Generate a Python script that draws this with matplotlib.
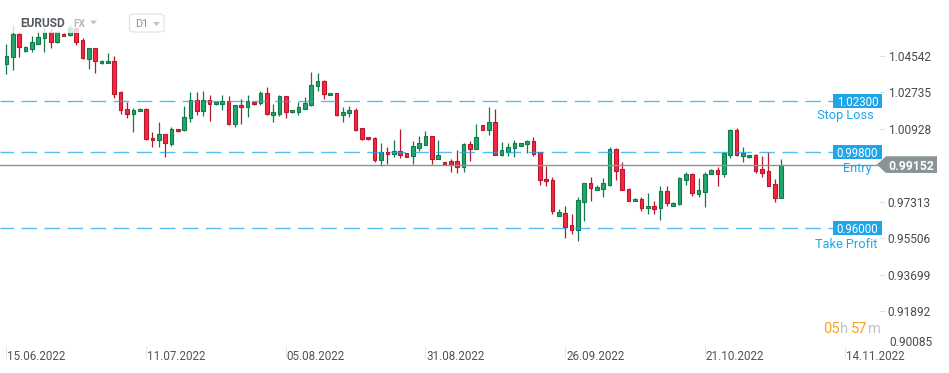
import numpy as np
import matplotlib
matplotlib.use("Agg")
import matplotlib.pyplot as plt
import matplotlib.transforms as mtransforms
from matplotlib.patches import Rectangle, Polygon, FancyBboxPatch

plt.rcParams['font.family'] = ['Roboto', 'DejaVu Sans']
plt.rcParams['lines.scale_dashes'] = False

# EURUSD D1 candles (one per trading day, Sunday sessions included)
opens = [1.04146, 1.04477, 1.05615, 1.04789, 1.04888, 1.05135, 1.05403, 1.05729, 1.05234, 1.05630,
         1.05551, 1.05897, 1.05318, 1.04393, 1.04908, 1.04165, 1.04165, 1.04279, 1.02745, 1.01889,
         1.01641, 1.01790, 1.01904, 1.00454, 1.00355, 1.00651, 1.00157, 1.00899, 1.00849, 1.01443,
         1.02349, 1.01819, 1.02349, 1.02136, 1.02136, 1.02300, 1.01176, 1.02102, 1.01988, 1.02235,
         1.02176, 1.02681, 1.01621, 1.01671, 1.02532, 1.01740, 1.01770, 1.01918, 1.02116, 1.03027,
         1.03289, 1.02582, 1.02681, 1.01621, 1.01690, 1.01839, 1.00948, 1.00503, 1.00454, 0.99394,
         0.99761, 0.99691, 0.99825, 0.99711, 0.99563, 0.99988, 1.00137, 1.00553, 0.99444, 0.99266,
         0.99330, 0.99330, 0.99048, 1.00171, 0.99939, 1.01097, 1.00879, 1.01260, 0.99642, 0.99790,
         0.99958, 1.00087, 1.00157, 1.00320, 0.99761, 0.98440, 0.98390, 0.96623, 0.96742, 0.96163,
         0.95930, 0.97316, 0.98227, 0.97910, 0.97959, 0.98142, 0.99924, 0.98934, 0.97945, 0.97336,
         0.97450, 0.96990, 0.97103, 0.97019, 0.97846, 0.97118, 0.97187, 0.98390, 0.98687, 0.97712,
         0.97811, 0.98702, 0.98885, 0.98702, 0.99642, 1.00849, 0.99592, 0.99513, 0.99612, 0.98919,
         0.98835, 0.98177, 0.97514]
highs = [1.05120, 1.06061, 1.05665, 1.05022, 1.05516, 1.05764, 1.05897, 1.05897, 1.05764, 1.05665,
         1.06061, 1.05962, 1.05403, 1.04908, 1.04922, 1.04304, 1.04675, 1.04527, 1.02794, 1.02235,
         1.01938, 1.01929, 1.01929, 1.00750, 1.01260, 1.00666, 1.00998, 1.00914, 1.02052, 1.02745,
         1.02745, 1.02794, 1.02596, 1.02260, 1.02596, 1.02547, 1.02126, 1.02398, 1.02596, 1.02250,
         1.02794, 1.02978, 1.02136, 1.02582, 1.02547, 1.01854, 1.02235, 1.02483, 1.03735, 1.03685,
         1.03339, 1.02696, 1.02696, 1.01988, 1.02037, 1.01938, 1.00963, 1.00518, 1.00503, 1.00206,
         1.00008, 1.00370, 1.00914, 0.99726, 1.00320, 1.00567, 1.00815, 1.00567, 1.00370, 0.99281,
         0.99444, 0.99875, 1.00196, 1.00320, 1.01161, 1.01111, 1.02000, 1.01904, 1.00270, 1.00220,
         1.00370, 1.00220, 1.00370, 1.00503, 0.99776, 0.99083, 0.98538, 0.96955, 0.97103, 0.96707,
         0.97549, 0.98242, 0.98538, 0.98143, 0.98489, 1.00023, 0.99958, 0.99281, 0.97969, 0.97475,
         0.97549, 0.97746, 0.97350, 0.98093, 0.98093, 0.97301, 0.98538, 0.98786, 0.98721, 0.98474,
         0.98771, 0.98910, 0.99018, 0.99791, 1.00899, 1.00948, 1.00008, 0.99627, 0.99652, 0.99578,
         0.99775, 0.98440, 0.99429]
lows = [1.03651, 1.03834, 1.04492, 1.04749, 1.04739, 1.05096, 1.04739, 1.04908, 1.05185, 1.05492,
        1.05541, 1.05070, 1.04393, 1.03898, 1.03700, 1.04155, 1.04165, 1.02433, 1.01671, 1.01473,
        1.00780, 1.01780, 1.00370, 1.00038, 1.00038, 0.99543, 1.00087, 1.00775, 1.00815, 1.01245,
        1.01621, 1.01572, 1.01325, 1.02126, 1.01839, 1.01127, 1.01028, 1.01176, 1.01523, 1.02111,
        1.02102, 1.01631, 1.01275, 1.01572, 1.01473, 1.01725, 1.01621, 1.01904, 1.02067, 1.02809,
        1.02413, 1.02572, 1.01572, 1.01275, 1.01523, 1.00830, 1.00379, 1.00379, 0.99281, 0.99083,
        0.99182, 0.99513, 0.99493, 0.99528, 0.99182, 0.99840, 1.00122, 0.99197, 0.99429, 0.99152,
        0.98801, 0.98721, 0.98801, 0.99345, 0.99924, 1.00864, 1.00617, 0.99627, 0.99578, 0.99592,
        0.99513, 1.00073, 0.99726, 0.99592, 0.98142, 0.98108, 0.96722, 0.96608, 0.95534, 0.95732,
        0.95386, 0.96376, 0.97365, 0.97895, 0.97549, 0.98093, 0.98390, 0.97895, 0.97350, 0.97326,
        0.96870, 0.96707, 0.96722, 0.96425, 0.97118, 0.97103, 0.97177, 0.98142, 0.97613, 0.97564,
        0.97068, 0.98687, 0.98108, 0.98523, 0.99493, 0.99592, 0.99296, 0.99499, 0.98736, 0.98553,
        0.98093, 0.97316, 0.97499]
closes = [1.04527, 1.05615, 1.04957, 1.04957, 1.05205, 1.05467, 1.05729, 1.05234, 1.05699, 1.05516,
          1.05897, 1.05234, 1.04442, 1.04908, 1.04294, 1.04279, 1.04279, 1.02661, 1.01839, 1.01641,
          1.01839, 1.01904, 1.00404, 1.00355, 1.00651, 1.00206, 1.00899, 1.00800, 1.01508, 1.02349,
          1.01819, 1.02349, 1.02136, 1.02235, 1.02300, 1.01176, 1.02102, 1.01988, 1.02300, 1.02136,
          1.02681, 1.01641, 1.01740, 1.02532, 1.01770, 1.01839, 1.01988, 1.02186, 1.03077, 1.03289,
          1.02631, 1.02681, 1.01621, 1.01740, 1.01839, 1.00879, 1.00404, 1.00404, 0.99394, 0.99761,
          0.99662, 0.99825, 0.99642, 0.99543, 1.00058, 1.00206, 1.00553, 0.99444, 0.99612, 0.99167,
          0.99197, 0.99048, 1.00171, 0.99939, 1.00503, 1.00879, 1.01260, 0.99642, 0.99875, 1.00008,
          1.00206, 1.00206, 1.00320, 0.99691, 0.98405, 0.98326, 0.96856, 0.96806, 0.96078, 0.95930,
          0.97385, 0.98227, 0.98009, 0.98044, 0.98227, 0.99924, 0.98850, 0.97910, 0.97365, 0.97450,
          0.97019, 0.97103, 0.96970, 0.97846, 0.97266, 0.97266, 0.98474, 0.98687, 0.97731, 0.97895,
          0.98687, 0.98885, 0.98702, 0.99726, 1.00849, 0.99642, 0.99726, 0.99612, 0.98835, 0.98751,
          0.98108, 0.97514, 0.99152]

date_pos = [0, 22, 44, 66, 88, 110, 132]
date_labels = ['15.06.2022', '11.07.2022', '05.08.2022', '31.08.2022', '26.09.2022', '21.10.2022', '14.11.2022']
price_ticks = [1.04542, 1.02735, 1.00928, 0.97313, 0.95506, 0.93699, 0.91892]
bottom_tick = 0.90085

stop_loss = 1.02300
entry_level = 0.99800
take_profit = 0.96000
last_price = closes[-1]

GREEN, GREEN_EDGE = '#21a66b', '#137a4b'
RED, RED_EDGE = '#f5283f', '#b8172d'
BLUE = '#1fa6ea'
GRAY = '#8a9497'

W, H = 949, 373
PX = 0.0004949  # price per pixel
fig = plt.figure(figsize=(W / 100, H / 100), dpi=100)
ax = fig.add_axes([0, 1 - 346 / H, 880 / W, 346 / H])

o = np.array(opens)
c = np.array(closes)
hi = np.array(highs)
lo = np.array(lows)
x = np.arange(len(o))
up = c >= o

ax.vlines(x[up], lo[up], hi[up], color=GREEN_EDGE, lw=0.9, zorder=2)
ax.vlines(x[~up], lo[~up], hi[~up], color=RED_EDGE, lw=0.9, zorder=2)
body_lo = np.minimum(o, c)
body_h = np.maximum(np.abs(c - o), 0.0008)
ax.bar(x[up], body_h[up], bottom=body_lo[up], width=0.58, color=GREEN,
       edgecolor=GREEN_EDGE, linewidth=0.8, zorder=2.5)
ax.bar(x[~up], body_h[~up], bottom=body_lo[~up], width=0.58, color=RED,
       edgecolor=RED_EDGE, linewidth=0.8, zorder=2.5)

# order levels
for lvl in [stop_loss, entry_level, take_profit]:
    ax.axhline(lvl, xmin=0, xmax=833 / 880, color=BLUE, lw=1.0, alpha=0.75,
               linestyle=(1.5, (11.2, 5.4)), zorder=3)
ax.axhline(last_price, xmin=0, xmax=877 / 880, color=GRAY, lw=1.0, zorder=3.2)

ax.set_xlim(-1, 880 / 6.35 - 1)
ax.set_ylim(0.90174, 1.07298)
for s in ax.spines.values():
    s.set_visible(False)

ax.yaxis.tick_right()
ax.set_yticks(price_ticks)
ax.set_yticklabels([f'{t:.5f}' for t in price_ticks])
ax.tick_params(axis='y', length=3, width=0.6, color='#d4d4d4', pad=2.5,
               labelsize=8.6, labelcolor='#474b4f')
ax.set_xticks(date_pos)
ax.tick_params(axis='x', length=8.5, width=0.7, color='#e6e6e6', labelbottom=False)

tx = mtransforms.blended_transform_factory(ax.transData, fig.transFigure)
for p, lbl in zip(date_pos, date_labels):
    ax.text(p + 0.15, 1 - 360 / H, lbl, transform=tx, ha='left', va='baseline',
            fontsize=8.4, color='#4f5357', clip_on=False)

ty = mtransforms.blended_transform_factory(fig.transFigure, ax.transData)
ax.text(889 / W, bottom_tick + 0.0028, f'{bottom_tick:.5f}', transform=ty, ha='left', va='center',
        fontsize=8.6, color='#474b4f', clip_on=False)

half = 7 * PX
notes = [(stop_loss, 'Stop Loss', 874, 12.7), (entry_level, 'Entry', 872, 15.2),
         (take_profit, 'Take Profit', 877, 15.0)]
for lvl, name, nx, dy in notes:
    ax.add_patch(Rectangle((833.3 / W, lvl - half), 48.4 / W, 2 * half, transform=ty,
                           facecolor=BLUE, edgecolor='none', clip_on=False, zorder=5))
    ax.text(857.5 / W, lvl, f'{lvl:.5f}', transform=ty, ha='center', va='center_baseline',
            fontsize=8.3, color='white', clip_on=False, zorder=6)
    ax.text(nx / W, lvl - dy * PX, name, transform=ty, ha='right', va='center_baseline',
            fontsize=9.2, color=BLUE, clip_on=False, zorder=6)

th = 8.35 * PX
tag = Polygon([(876.7 / W, last_price), (886 / W, last_price + th), (937 / W, last_price + th),
               (937 / W, last_price - th), (886 / W, last_price - th)], closed=True,
              transform=ty, facecolor=GRAY, edgecolor='none', clip_on=False, zorder=5)
ax.add_patch(tag)
ax.text(911 / W, last_price, f'{last_price:.5f}', transform=ty, ha='center', va='center_baseline',
        fontsize=8.8, fontweight='bold', color='white', clip_on=False, zorder=6)

# header
fig.patches.append(Rectangle((0, 1 - 33 / H), 170 / W, 33 / H, transform=fig.transFigure,
                             facecolor='white', alpha=0.78, edgecolor='none', zorder=1))
fig.text(20.7 / W, 1 - 27.3 / H, 'EURUSD', fontsize=8.6, fontweight='bold', color='#555a60', zorder=4)
fig.text(73 / W, 1 - 27.3 / H, 'FX', fontsize=7.4, fontweight='bold', color='#b3bac4', zorder=4)
fig.patches.append(Polygon([(90 / W, 1 - 20.5 / H), (97 / W, 1 - 20.5 / H), (93.5 / W, 1 - 24.5 / H)],
                           closed=True, transform=fig.transFigure, facecolor='#bfc4ca',
                           edgecolor='none', zorder=3))
fig.patches.append(FancyBboxPatch((129.5 / W, 1 - 32 / H), 34.5 / W, 18 / H,
                                  boxstyle='round,pad=0,rounding_size=0.006',
                                  transform=fig.transFigure, facecolor='white',
                                  edgecolor='#e1e4e7', lw=0.9, zorder=2))
fig.text(135 / W, 1 - 27.3 / H, 'D1', fontsize=7.8, color='#8b9097', zorder=4)
fig.patches.append(Polygon([(153 / W, 1 - 22 / H), (160 / W, 1 - 22 / H), (156.5 / W, 1 - 26 / H)],
                           closed=True, transform=fig.transFigure, facecolor='#bfc4ca',
                           edgecolor='none', zorder=3))

# candle countdown
ORANGE, LIGHT = '#fba21c', '#c0c5ca'
t = ax.text(823 / W, 1 - 333.3 / H, '05', transform=fig.transFigure, fontsize=10.6,
            color=ORANGE, va='baseline', clip_on=False)
for part, col in [('h ', LIGHT), ('57', ORANGE), ('m', LIGHT)]:
    t = ax.annotate(part, xy=(1, 0), xycoords=t, va='bottom', ha='left',
                    fontsize=10.6, color=col, annotation_clip=False)

fig.savefig('out.png', dpi=100)
